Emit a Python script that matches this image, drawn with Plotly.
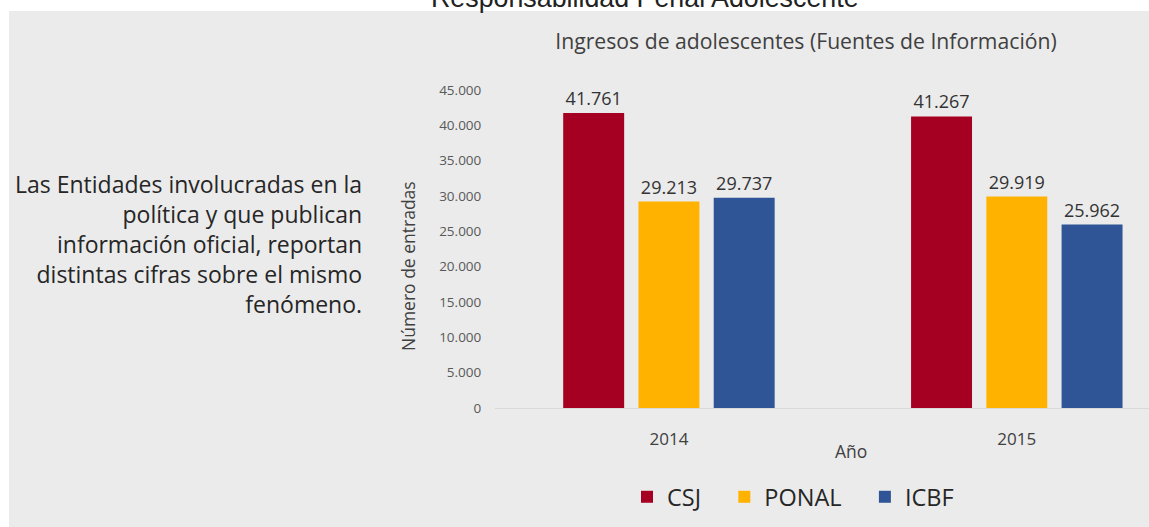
import plotly.graph_objects as go

years = ["2014", "2015"]
csj = [41761, 41267]
ponal = [29213, 29919]
icbf = [29737, 25962]
series_names = ["CSJ", "PONAL", "ICBF"]
series_colors = ["#a50021", "#ffb300", "#2f5597"]
y_ticks = [0, 5000, 10000, 15000, 20000, 25000, 30000, 35000, 40000, 45000]

W, H = 1149, 527
L, R, T, B = 495, 0, 90, 527 - 408
pw, ph = W - L - R, H - T - B

def px(x):
    return (x - L) / pw

def py(y):
    return (H - B - y) / ph

FONT = "Open Sans"
PAD = "\u00a0\u00a0\u00a0"
legend_labels = [series_names[0] + PAD, series_names[1] + PAD, series_names[2]]

fig = go.Figure()
for name, lab, vals, col in zip(series_names, legend_labels, [csj, ponal, icbf], series_colors):
    fig.add_trace(go.Bar(
        x=years, y=vals, name=lab, marker_color=col,
        marker_line_width=0,
        texttemplate="%{y:,}", textposition="outside",
        textfont=dict(size=18, color="#333333", family=FONT),
        cliponaxis=False,
    ))

fig.update_layout(
    width=W, height=H, autosize=False,
    margin=dict(l=L, r=R, t=T, b=B, pad=0),
    paper_bgcolor="white", plot_bgcolor="rgba(0,0,0,0)",
    separators=",.",
    barmode="group", bargap=0.351, bargroupgap=0.19,
    font=dict(family=FONT, color="#404040"),
    title=dict(text="Ingresos de adolescentes (Fuentes de Información)",
               x=px(806), xref="paper", xanchor="center",
               y=1 - 42 / H, yref="container", yanchor="middle",
               font=dict(size=21.2, color="#404040", family=FONT)),
    xaxis=dict(range=[-0.5, 1.38], showgrid=False, zeroline=False,
               showline=True, linecolor="#d9d9d9", linewidth=1,
               ticks="outside", ticklen=16, tickcolor="rgba(0,0,0,0)",
               tickfont=dict(size=17, color="#404040")),
    yaxis=dict(range=[0, 45000], tickvals=y_ticks, tickformat=",d",
               showgrid=False, zeroline=False, showline=False,
               ticks="outside", ticklen=10, tickcolor="rgba(0,0,0,0)",
               tickfont=dict(size=13.5, color="#595959")),
    legend=dict(orientation="h", x=px(793), xanchor="center",
                y=py(497), yanchor="middle",
                font=dict(size=23.5, color="#262626", family=FONT),
                bgcolor="rgba(0,0,0,0)"),
    shapes=[dict(type="rect", xref="paper", yref="paper", layer="below",
                 x0=px(9), x1=px(1160), y0=py(540), y1=py(11),
                 fillcolor="#ebebeb", line_width=0)],
    annotations=[
        dict(text="Responsabilidad Penal Adolescente", xref="paper", yref="paper",
             x=px(645), y=py(-2), xanchor="center", yanchor="middle",
             showarrow=False, font=dict(size=26.8, color="#222222", family="Liberation Sans")),
        dict(text="Número de entradas", xref="paper", yref="paper",
             x=px(408), y=py(266), xanchor="center", yanchor="middle",
             textangle=-90, showarrow=False,
             font=dict(size=17.5, color="#404040")),
        dict(text="Año", xref="paper", yref="paper", x=px(851), y=py(451),
             xanchor="center", yanchor="middle", showarrow=False,
             font=dict(size=17.5, color="#404040")),
        dict(text="Las Entidades involucradas en la<br>política y que publican<br>información oficial, reportan<br>distintas cifras sobre el mismo<br>fenómeno.",
             xref="paper", yref="paper", x=px(364), y=py(244),
             xanchor="right", yanchor="middle", align="right", showarrow=False,
             font=dict(size=23, color="#262626", family=FONT)),
    ],
)

fig.write_html("out.html", config={"displayModeBar": False},
               post_script="document.body.style.margin='0';")
